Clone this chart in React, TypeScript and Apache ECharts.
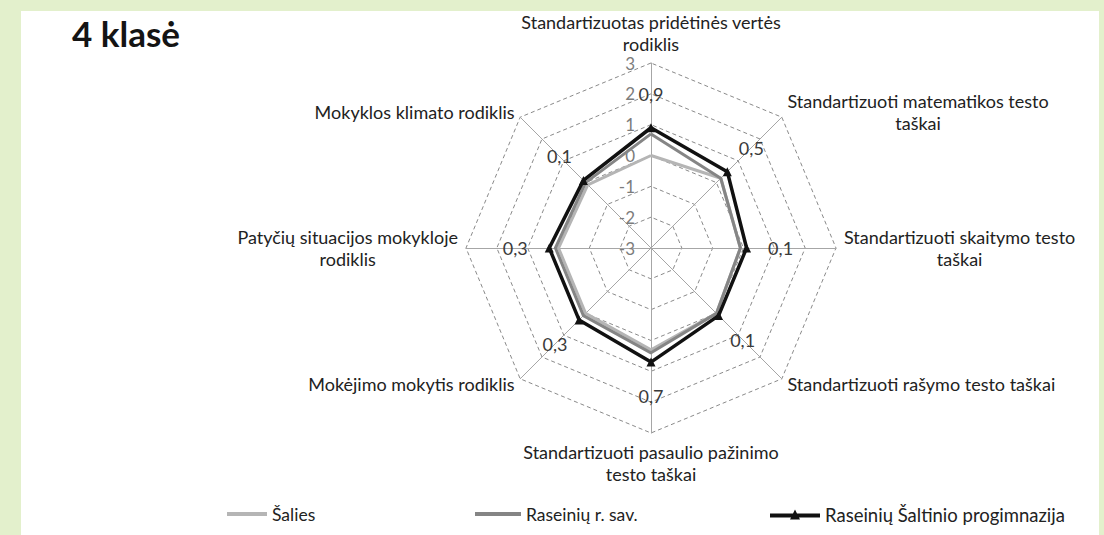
import React, { useEffect, useRef } from "react";
import * as echarts from "echarts";

// Indicators in ECharts order (starting at top, going counter-clockwise)
const indicatorNames = [
  "Standartizuotas pridėtinės vertės\nrodiklis",
  "Mokyklos klimato rodiklis",
  "Patyčių situacijos mokykloje\nrodiklis",
  "Mokėjimo mokytis rodiklis",
  "Standartizuoti pasaulio pažinimo\ntesto taškai",
  "Standartizuoti rašymo testo taškai",
  "Standartizuoti skaitymo testo\ntaškai",
  "Standartizuoti matematikos testo\ntaškai",
];

const seriesNames = ["Šalies", "Raseinių r. sav.", "Raseinių Šaltinio progimnazija"];
const saliesValues = [0.0, -0.1, 0.0, 0.0, 0.3, 0.0, -0.1, 0.2];
const savValues = [0.7, 0.0, 0.1, 0.1, 0.4, 0.0, -0.1, 0.2];
const schoolValues = [0.9, 0.1, 0.3, 0.3, 0.7, 0.1, 0.1, 0.5];

const tickLabels = ["-3", "-2", "-1", "0", "1", "2", "3"];
const axisMin = -3;
const axisMax = 3;

const CX = 651;
const CY = 248;
const R = 185;
const FONT = "Lato, 'Open Sans', sans-serif";

export default function App() {
  const ref = useRef<HTMLDivElement>(null);
  useEffect(() => {
    if (!ref.current) return;
    const chart = echarts.init(ref.current, null, { renderer: "svg" });
    const fmtComma = (v: number) => String(v).replace(".", ",");
    const legendBase = {
      orient: "horizontal",
      selectedMode: false,
      itemGap: 0,
    };
    const legendText = (size: number) => ({ fontSize: size, fontFamily: FONT, color: "#222" });
    chart.setOption({
      animation: false,
      backgroundColor: "#e3f0cc",
      graphic: [
        {
          type: "rect",
          z: -10,
          silent: true,
          shape: { x: 21, y: 11, width: 1078, height: 524 },
          style: { fill: "#ffffff" },
        },
      ],
      title: {
        text: "4 klasė",
        left: 67,
        top: 10,
        textStyle: { fontSize: 35, fontWeight: "bold", fontFamily: FONT, color: "#141414" },
      },
      legend: [
        {
          ...legendBase,
          left: 222,
          top: 500,
          data: [seriesNames[0]],
          itemWidth: 40,
          itemHeight: 4,
          icon: "path://M0,0H40V4H0Z",
          textStyle: legendText(17.5),
        },
        {
          ...legendBase,
          left: 470,
          top: 500,
          data: [seriesNames[1]],
          itemWidth: 46,
          itemHeight: 4,
          icon: "path://M0,0H46V4H0Z",
          textStyle: legendText(17.5),
        },
        {
          ...legendBase,
          left: 765,
          top: 500,
          data: [seriesNames[2]],
          itemWidth: 50,
          itemHeight: 12,
          icon: "path://M0,4H50V8H0Z M25,0L30,10H20Z",
          textStyle: legendText(18.5),
        },
      ],
      radar: {
        center: [CX, CY],
        radius: R,
        startAngle: 90,
        shape: "polygon",
        splitNumber: tickLabels.length - 1,
        indicator: indicatorNames.map((n, i) => ({
          name: n,
          min: axisMin,
          max: axisMax,
          ...(i === 0
            ? {
                axisLabel: {
                  show: true,
                  fontSize: 17,
                  fontFamily: FONT,
                  color: "#7c7c7c",
                  margin: 16,
                  formatter: (v: number) => tickLabels[Math.round(v - axisMin)] ?? "",
                },
              }
            : {}),
        })),
        axisName: {
          color: "#222",
          fontSize: 18,
          fontFamily: FONT,
          lineHeight: 22,
          formatter: (name: string) =>
            name
              .split("\n")
              .map((l) => `{c|${l}}`)
              .join("\n"),
          rich: {
            c: { align: "center", fontSize: 18, fontFamily: FONT, color: "#222", lineHeight: 22 },
          },
        },
        nameGap: 8,
        axisLine: { lineStyle: { color: "#a6a6a6", width: 1 } },
        splitLine: { lineStyle: { color: "#8a8a8a", width: 1, type: [4, 3] } },
        splitArea: { show: false },
        axisLabel: { show: false },
        axisTick: { show: false },
      },
      series: [
        {
          type: "radar",
          name: seriesNames[0],
          symbol: "none",
          lineStyle: { color: "#b5b5b5", width: 3 },
          itemStyle: { color: "#b5b5b5" },
          data: [{ value: saliesValues, name: seriesNames[0] }],
          z: 2,
        },
        {
          type: "radar",
          name: seriesNames[1],
          symbol: "none",
          lineStyle: { color: "#858585", width: 3 },
          itemStyle: { color: "#858585" },
          data: [{ value: savValues, name: seriesNames[1] }],
          z: 3,
        },
        {
          type: "radar",
          name: seriesNames[2],
          symbol: "triangle",
          symbolSize: 9,
          lineStyle: { color: "#111", width: 3.5 },
          itemStyle: { color: "#111" },
          label: {
            show: true,
            position: "inside",
            fontSize: 18,
            fontFamily: FONT,
            color: "#3a3a3a",
            formatter: (p: any) => fmtComma(p.value),
          },
          labelLayout: (p: any) => {
            const r = p.rect;
            const x = r.x + r.width / 2;
            const y = r.y + r.height / 2;
            const dx = x - CX;
            const dy = y - CY;
            const len = Math.sqrt(dx * dx + dy * dy) || 1;
            return { dx: (dx / len) * 34, dy: (dy / len) * 34 };
          },
          data: [{ value: schoolValues, name: seriesNames[2] }],
          z: 4,
        },
      ],
    });
    return () => chart.dispose();
  }, []);
  return (
    <div
      ref={ref}
      style={{ position: "fixed", left: 0, top: 0, width: 1104, height: 535 }}
    />
  );
}
